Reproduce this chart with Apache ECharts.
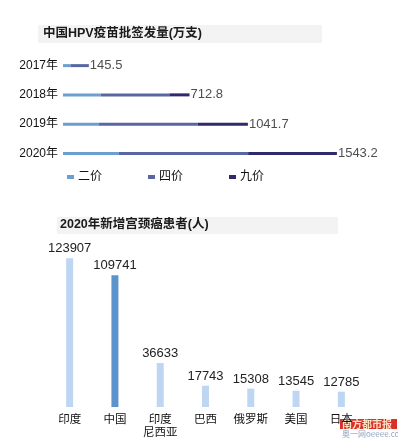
<!DOCTYPE html>
<html>
<head>
<meta charset="utf-8">
<script src="https://cdn.jsdelivr.net/npm/echarts@6/dist/echarts.min.js"></script>
<style>
html,body{margin:0;padding:0;background:#fff;}
#main{width:398px;height:441px;}
</style>
</head>
<body>
<div id="main"></div>
<script>
// ---- Top chart data: HPV vaccine batch release (万支) ----
var years = ['2017年', '2018年', '2019年', '2020年'];
var seriesNames = ['二价', '四价', '九价'];
var bivalent = [42, 212, 203, 315];
var quadrivalent = [103.5, 387, 555, 728];
var nonavalent = [0, 113.8, 283.7, 500.2];
var totals = [145.5, 712.8, 1041.7, 1543.2];

// ---- Bottom chart data: 2020 new cervical cancer patients ----
var countries = ['印度', '中国', '印度\n尼西亚', '巴西', '俄罗斯', '美国', '日本'];
var patients = [123907, 109741, 36633, 17743, 15308, 13545, 12785];

var FONT = 'Liberation Sans, Arial, Noto Sans CJK SC, sans-serif';
var colors = ['#6a9fcf', '#5866a6', '#2e2a6b'];

var chart = echarts.init(document.getElementById('main'), null, {renderer: 'canvas'});

var patientData = patients.map(function (v, i) {
  return {
    value: v,
    itemStyle: {color: countries[i] === '中国' ? '#5b94cc' : '#bed6f1'}
  };
});

function seg(name, data, idx) {
  return {
    name: name,
    type: 'bar',
    stack: 'hpv',
    xAxisIndex: 0,
    yAxisIndex: 0,
    barWidth: 3,
    itemStyle: {color: colors[idx]},
    data: data,
    animation: false
  };
}

var option = {
  animation: false,
  backgroundColor: '#ffffff',
  textStyle: {fontFamily: FONT},
  graphic: [
    {type: 'rect', left: 38, top: 25, shape: {width: 284, height: 18}, style: {fill: '#f3f3f3'}, z: -1},
    {type: 'text', left: 43, top: 27, style: {text: '中国HPV疫苗批签发量(万支)', font: 'bold 12.5px Liberation Sans, Noto Sans CJK SC, sans-serif', fill: '#1a1a1a'}},
    {type: 'rect', left: 57, top: 217, shape: {width: 281, height: 17}, style: {fill: '#f3f3f3'}, z: -1},
    {type: 'text', left: 60, top: 218, style: {text: '2020年新增宫颈癌患者(人)', font: 'bold 12.5px Liberation Sans, Noto Sans CJK SC, sans-serif', fill: '#1a1a1a'}},
    {type: 'rect', left: 340, top: 419, shape: {width: 57, height: 10}, style: {fill: '#d9302a'}},
    {type: 'text', left: 342, top: 419, style: {text: '南方都市报', font: 'bold 10px Noto Sans CJK SC, sans-serif', fill: '#ffe0c0'}},
    {type: 'text', left: 342, top: 430, style: {text: '奥一网oeeee.com', font: '8px Noto Sans CJK SC, sans-serif', fill: '#8fa3c0'}}
  ],
  legend: {
    data: seriesNames,
    left: 62,
    top: 166,
    itemWidth: 7,
    itemHeight: 4,
    itemGap: 46,
    icon: 'rect',
    textStyle: {fontSize: 12, color: '#111', fontFamily: FONT, padding: [0, 0, 0, -1]}
  },
  grid: [
    {left: 63, right: 51, top: 51, height: 117},
    {left: 47, right: 34, top: 239, bottom: 34}
  ],
  xAxis: [
    {type: 'value', gridIndex: 0, min: 0, max: 1600, show: false},
    {
      type: 'category', gridIndex: 1, data: countries,
      axisLine: {show: false}, axisTick: {show: false},
      axisLabel: {fontSize: 11.5, color: '#111', margin: 6, lineHeight: 13, interval: 0, fontFamily: FONT}
    }
  ],
  yAxis: [
    {
      type: 'category', gridIndex: 0, data: years, inverse: true,
      axisLine: {show: false}, axisTick: {show: false},
      axisLabel: {fontSize: 12, color: '#111', margin: 5, fontFamily: FONT}
    },
    {type: 'value', gridIndex: 1, min: 0, max: 140000, show: false, splitLine: {show: false}}
  ],
  series: [
    seg(seriesNames[0], bivalent, 0),
    seg(seriesNames[1], quadrivalent, 1),
    seg(seriesNames[2], nonavalent, 2),
    {
      type: 'scatter',
      xAxisIndex: 0,
      yAxisIndex: 0,
      symbol: 'circle',
      symbolSize: 2,
      itemStyle: {color: 'rgba(255,255,255,0)'},
      data: totals.map(function (t, i) { return [t, i]; }),
      label: {
        show: true, position: 'right', distance: 0,
        fontSize: 13, color: '#222', fontFamily: FONT,
        formatter: function (p) { return String(totals[p.dataIndex]); }
      },
      silent: true,
      z: 10
    },
    {
      type: 'bar',
      xAxisIndex: 1,
      yAxisIndex: 1,
      barWidth: 7,
      data: patientData,
      label: {show: true, position: 'top', distance: 3, fontSize: 13, color: '#222', fontFamily: FONT}
    }
  ]
};

chart.setOption(option);
</script>
</body>
</html>
